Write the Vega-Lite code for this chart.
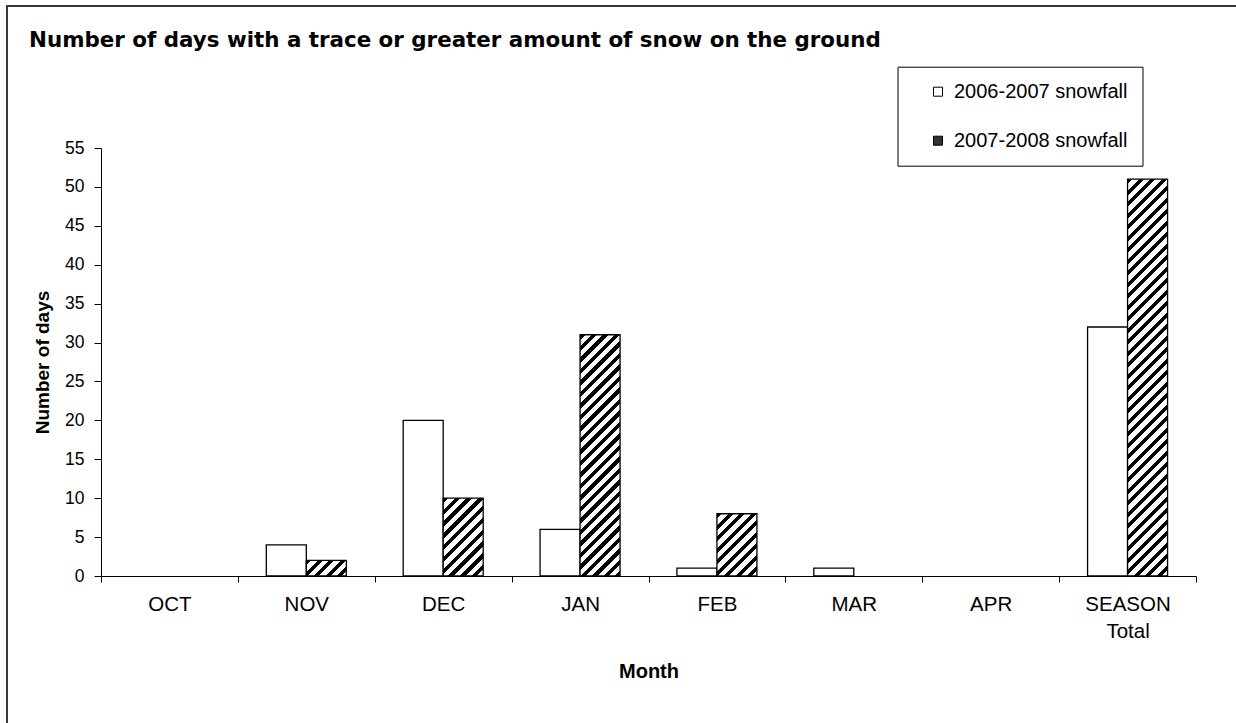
{
  "$schema": "https://vega.github.io/schema/vega-lite/v6.json",
  "width": 1239,
  "height": 720,
  "autosize": {"type": "none"},
  "padding": {"left": 7, "top": 6, "right": -10, "bottom": -3},
  "background": "white",
  "config": {
    "view": {"stroke": "#3a3a3a", "strokeWidth": 2},
    "font": "Liberation Sans",
    "axis": {"domainColor": "black", "tickColor": "black", "labelColor": "black", "titleColor": "black", "grid": false, "domainWidth": 1, "tickWidth": 1}
  },
  "title": {
    "text": "Number of days with a trace or greater amount of snow on the ground",
    "anchor": "start", "frame": "group", "font": "DejaVu Sans", "fontSize": 21.4, "fontWeight": "bold",
    "color": "black", "baseline": "alphabetic", "offset": 0, "dx": 22, "dy": 62
  },
  "data": {"values": [
    {"month": "OCT", "season": "2006-2007 snowfall", "days": 0},
    {"month": "OCT", "season": "2007-2008 snowfall", "days": 0},
    {"month": "NOV", "season": "2006-2007 snowfall", "days": 4},
    {"month": "NOV", "season": "2007-2008 snowfall", "days": 2},
    {"month": "DEC", "season": "2006-2007 snowfall", "days": 20},
    {"month": "DEC", "season": "2007-2008 snowfall", "days": 10},
    {"month": "JAN", "season": "2006-2007 snowfall", "days": 6},
    {"month": "JAN", "season": "2007-2008 snowfall", "days": 31},
    {"month": "FEB", "season": "2006-2007 snowfall", "days": 1},
    {"month": "FEB", "season": "2007-2008 snowfall", "days": 8},
    {"month": "MAR", "season": "2006-2007 snowfall", "days": 1},
    {"month": "MAR", "season": "2007-2008 snowfall", "days": 0},
    {"month": "APR", "season": "2006-2007 snowfall", "days": 0},
    {"month": "APR", "season": "2007-2008 snowfall", "days": 0},
    {"month": "SEASON Total", "season": "2006-2007 snowfall", "days": 32},
    {"month": "SEASON Total", "season": "2007-2008 snowfall", "days": 51}
  ]},
  "mark": {"type": "bar", "stroke": "black"},
  "encoding": {
    "x": {
      "field": "month", "type": "nominal",
      "sort": ["OCT", "NOV", "DEC", "JAN", "FEB", "MAR", "APR", "SEASON Total"],
      "scale": {"range": [94, 1189], "paddingInner": 0, "paddingOuter": 0},
      "axis": {
        "title": "Month", "orient": "bottom", "offset": -150, "tickBand": "extent", "tickSize": 6,
        "labelAngle": 0, "labelFontSize": 20.5, "labelPadding": 12, "labelLineHeight": 27,
        "labelExpr": "datum.label === 'SEASON Total' ? ['SEASON', 'Total'] : datum.label",
        "titleFontSize": 20, "titleFontWeight": "bold", "titlePadding": 20,
        "encode": {"ticks": {"y": {"value": -7}}}
      }
    },
    "xOffset": {"field": "season", "type": "nominal", "scale": {"paddingInner": 0, "paddingOuter": 0.7109375}},
    "y": {
      "field": "days", "type": "quantitative",
      "scale": {"domain": [0, 55], "range": [570, 142], "nice": false},
      "axis": {
        "title": "Number of days", "orient": "left", "offset": -94,
        "values": [0, 5, 10, 15, 20, 25, 30, 35, 40, 45, 50, 55],
        "tickSize": 7, "labelFontSize": 17.5, "labelPadding": 10,
        "titleFontSize": 19, "titleFontWeight": "bold", "titlePadding": 12,
        "encode": {"ticks": {"x": {"value": 6}}}
      }
    },
    "strokeWidth": {"condition": {"test": "datum.days === 0", "value": 0}, "value": 1.3},
    "fill": {
      "field": "season", "type": "nominal",
      "scale": {"domain": ["2006-2007 snowfall", "2007-2008 snowfall"], "range": ["white", "#333"]},
      "legend": {
        "orient": "none", "legendX": 890.5, "legendY": 60.7, "title": null,
        "padding": 15, "symbolOffset": 15.5, "labelOffset": 6, "rowPadding": 29,
        "labelFontSize": 20, "labelFont": "Liberation Sans", "labelColor": "black", "labelLimit": 400,
        "labelExpr": "datum.label + '\u00a0\u00a0\u00a0'",
        "symbolType": "square", "symbolSize": 81, "symbolStrokeColor": "black", "symbolStrokeWidth": 1,
        "strokeColor": "black", "fillColor": "white"
      },
      "condition": [
        {"test": "datum.season === '2007-2008 snowfall' && datum.month === 'NOV'", "value": {"gradient": "linear", "x1": 0, "y1": 0, "x2": 1.24848, "y2": 0.48578, "stops": [
          {"offset": 0, "color": "#000"}, {"offset": 0.09, "color": "#000"}, {"offset": 0.09, "color": "#fff"}, {"offset": 0.2, "color": "#fff"},
          {"offset": 0.2, "color": "#000"}, {"offset": 0.29, "color": "#000"}, {"offset": 0.29, "color": "#fff"}, {"offset": 0.4, "color": "#fff"},
          {"offset": 0.4, "color": "#000"}, {"offset": 0.49, "color": "#000"}, {"offset": 0.49, "color": "#fff"}, {"offset": 0.6, "color": "#fff"},
          {"offset": 0.6, "color": "#000"}, {"offset": 0.69, "color": "#000"}, {"offset": 0.69, "color": "#fff"}, {"offset": 0.8, "color": "#fff"},
          {"offset": 0.8, "color": "#000"}, {"offset": 0.89, "color": "#000"}, {"offset": 0.89, "color": "#fff"}, {"offset": 1, "color": "#fff"}
        ]}},
        {"test": "datum.season === '2007-2008 snowfall' && datum.month === 'DEC'", "value": {"gradient": "linear", "x1": 0, "y1": 0, "x2": 0.61654, "y2": 1.19945, "stops": [
          {"offset": 0, "color": "#000"}, {"offset": 0.045, "color": "#000"}, {"offset": 0.045, "color": "#fff"}, {"offset": 0.1, "color": "#fff"},
          {"offset": 0.1, "color": "#000"}, {"offset": 0.145, "color": "#000"}, {"offset": 0.145, "color": "#fff"}, {"offset": 0.2, "color": "#fff"},
          {"offset": 0.2, "color": "#000"}, {"offset": 0.245, "color": "#000"}, {"offset": 0.245, "color": "#fff"}, {"offset": 0.3, "color": "#fff"},
          {"offset": 0.3, "color": "#000"}, {"offset": 0.345, "color": "#000"}, {"offset": 0.345, "color": "#fff"}, {"offset": 0.4, "color": "#fff"},
          {"offset": 0.4, "color": "#000"}, {"offset": 0.445, "color": "#000"}, {"offset": 0.445, "color": "#fff"}, {"offset": 0.5, "color": "#fff"},
          {"offset": 0.5, "color": "#000"}, {"offset": 0.545, "color": "#000"}, {"offset": 0.545, "color": "#fff"}, {"offset": 0.6, "color": "#fff"},
          {"offset": 0.6, "color": "#000"}, {"offset": 0.645, "color": "#000"}, {"offset": 0.645, "color": "#fff"}, {"offset": 0.7, "color": "#fff"},
          {"offset": 0.7, "color": "#000"}, {"offset": 0.745, "color": "#000"}, {"offset": 0.745, "color": "#fff"}, {"offset": 0.8, "color": "#fff"},
          {"offset": 0.8, "color": "#000"}, {"offset": 0.845, "color": "#000"}, {"offset": 0.845, "color": "#fff"}, {"offset": 0.9, "color": "#fff"},
          {"offset": 0.9, "color": "#000"}, {"offset": 0.945, "color": "#000"}, {"offset": 0.945, "color": "#fff"}, {"offset": 1, "color": "#fff"}
        ]}},
        {"test": "datum.season === '2007-2008 snowfall' && datum.month === 'FEB'", "value": {"gradient": "linear", "x1": 0, "y1": 0, "x2": 0.75607, "y2": 1.17673, "stops": [
          {"offset": 0, "color": "#000"}, {"offset": 0.05, "color": "#000"}, {"offset": 0.05, "color": "#fff"}, {"offset": 0.1111, "color": "#fff"},
          {"offset": 0.1111, "color": "#000"}, {"offset": 0.1611, "color": "#000"}, {"offset": 0.1611, "color": "#fff"}, {"offset": 0.2222, "color": "#fff"},
          {"offset": 0.2222, "color": "#000"}, {"offset": 0.2722, "color": "#000"}, {"offset": 0.2722, "color": "#fff"}, {"offset": 0.3333, "color": "#fff"},
          {"offset": 0.3333, "color": "#000"}, {"offset": 0.3833, "color": "#000"}, {"offset": 0.3833, "color": "#fff"}, {"offset": 0.4444, "color": "#fff"},
          {"offset": 0.4444, "color": "#000"}, {"offset": 0.4944, "color": "#000"}, {"offset": 0.4944, "color": "#fff"}, {"offset": 0.5556, "color": "#fff"},
          {"offset": 0.5556, "color": "#000"}, {"offset": 0.6056, "color": "#000"}, {"offset": 0.6056, "color": "#fff"}, {"offset": 0.6667, "color": "#fff"},
          {"offset": 0.6667, "color": "#000"}, {"offset": 0.7167, "color": "#000"}, {"offset": 0.7167, "color": "#fff"}, {"offset": 0.7778, "color": "#fff"},
          {"offset": 0.7778, "color": "#000"}, {"offset": 0.8278, "color": "#000"}, {"offset": 0.8278, "color": "#fff"}, {"offset": 0.8889, "color": "#fff"},
          {"offset": 0.8889, "color": "#000"}, {"offset": 0.9389, "color": "#000"}, {"offset": 0.9389, "color": "#fff"}, {"offset": 1, "color": "#fff"}
        ]}},
        {"test": "datum.season === '2007-2008 snowfall' && datum.month === 'JAN'", "value": {"gradient": "linear", "x1": 0, "y1": 0, "x2": 0.192324, "y2": 1.15989, "stops": [
          {"offset": 0, "color": "#000"}, {"offset": 0.018, "color": "#000"}, {"offset": 0.018, "color": "#fff"}, {"offset": 0.04, "color": "#fff"},
          {"offset": 0.04, "color": "#000"}, {"offset": 0.058, "color": "#000"}, {"offset": 0.058, "color": "#fff"}, {"offset": 0.08, "color": "#fff"},
          {"offset": 0.08, "color": "#000"}, {"offset": 0.098, "color": "#000"}, {"offset": 0.098, "color": "#fff"}, {"offset": 0.12, "color": "#fff"},
          {"offset": 0.12, "color": "#000"}, {"offset": 0.138, "color": "#000"}, {"offset": 0.138, "color": "#fff"}, {"offset": 0.16, "color": "#fff"},
          {"offset": 0.16, "color": "#000"}, {"offset": 0.178, "color": "#000"}, {"offset": 0.178, "color": "#fff"}, {"offset": 0.2, "color": "#fff"},
          {"offset": 0.2, "color": "#000"}, {"offset": 0.218, "color": "#000"}, {"offset": 0.218, "color": "#fff"}, {"offset": 0.24, "color": "#fff"},
          {"offset": 0.24, "color": "#000"}, {"offset": 0.258, "color": "#000"}, {"offset": 0.258, "color": "#fff"}, {"offset": 0.28, "color": "#fff"},
          {"offset": 0.28, "color": "#000"}, {"offset": 0.298, "color": "#000"}, {"offset": 0.298, "color": "#fff"}, {"offset": 0.32, "color": "#fff"},
          {"offset": 0.32, "color": "#000"}, {"offset": 0.338, "color": "#000"}, {"offset": 0.338, "color": "#fff"}, {"offset": 0.36, "color": "#fff"},
          {"offset": 0.36, "color": "#000"}, {"offset": 0.378, "color": "#000"}, {"offset": 0.378, "color": "#fff"}, {"offset": 0.4, "color": "#fff"},
          {"offset": 0.4, "color": "#000"}, {"offset": 0.418, "color": "#000"}, {"offset": 0.418, "color": "#fff"}, {"offset": 0.44, "color": "#fff"},
          {"offset": 0.44, "color": "#000"}, {"offset": 0.458, "color": "#000"}, {"offset": 0.458, "color": "#fff"}, {"offset": 0.48, "color": "#fff"},
          {"offset": 0.48, "color": "#000"}, {"offset": 0.498, "color": "#000"}, {"offset": 0.498, "color": "#fff"}, {"offset": 0.52, "color": "#fff"},
          {"offset": 0.52, "color": "#000"}, {"offset": 0.538, "color": "#000"}, {"offset": 0.538, "color": "#fff"}, {"offset": 0.56, "color": "#fff"},
          {"offset": 0.56, "color": "#000"}, {"offset": 0.578, "color": "#000"}, {"offset": 0.578, "color": "#fff"}, {"offset": 0.6, "color": "#fff"},
          {"offset": 0.6, "color": "#000"}, {"offset": 0.618, "color": "#000"}, {"offset": 0.618, "color": "#fff"}, {"offset": 0.64, "color": "#fff"},
          {"offset": 0.64, "color": "#000"}, {"offset": 0.658, "color": "#000"}, {"offset": 0.658, "color": "#fff"}, {"offset": 0.68, "color": "#fff"},
          {"offset": 0.68, "color": "#000"}, {"offset": 0.698, "color": "#000"}, {"offset": 0.698, "color": "#fff"}, {"offset": 0.72, "color": "#fff"},
          {"offset": 0.72, "color": "#000"}, {"offset": 0.738, "color": "#000"}, {"offset": 0.738, "color": "#fff"}, {"offset": 0.76, "color": "#fff"},
          {"offset": 0.76, "color": "#000"}, {"offset": 0.778, "color": "#000"}, {"offset": 0.778, "color": "#fff"}, {"offset": 0.8, "color": "#fff"},
          {"offset": 0.8, "color": "#000"}, {"offset": 0.818, "color": "#000"}, {"offset": 0.818, "color": "#fff"}, {"offset": 0.84, "color": "#fff"},
          {"offset": 0.84, "color": "#000"}, {"offset": 0.858, "color": "#000"}, {"offset": 0.858, "color": "#fff"}, {"offset": 0.88, "color": "#fff"},
          {"offset": 0.88, "color": "#000"}, {"offset": 0.898, "color": "#000"}, {"offset": 0.898, "color": "#fff"}, {"offset": 0.92, "color": "#fff"},
          {"offset": 0.92, "color": "#000"}, {"offset": 0.938, "color": "#000"}, {"offset": 0.938, "color": "#fff"}, {"offset": 0.96, "color": "#fff"},
          {"offset": 0.96, "color": "#000"}, {"offset": 0.978, "color": "#000"}, {"offset": 0.978, "color": "#fff"}, {"offset": 1, "color": "#fff"}
        ]}},
        {"test": "datum.season === '2007-2008 snowfall' && datum.month === 'SEASON Total'", "value": {"gradient": "linear", "x1": 0, "y1": 0, "x2": 0.115645, "y2": 1.1474, "stops": [
          {"offset": 0, "color": "#000"}, {"offset": 0.01125, "color": "#000"}, {"offset": 0.01125, "color": "#fff"}, {"offset": 0.025, "color": "#fff"},
          {"offset": 0.025, "color": "#000"}, {"offset": 0.03625, "color": "#000"}, {"offset": 0.03625, "color": "#fff"}, {"offset": 0.05, "color": "#fff"},
          {"offset": 0.05, "color": "#000"}, {"offset": 0.06125, "color": "#000"}, {"offset": 0.06125, "color": "#fff"}, {"offset": 0.075, "color": "#fff"},
          {"offset": 0.075, "color": "#000"}, {"offset": 0.08625, "color": "#000"}, {"offset": 0.08625, "color": "#fff"}, {"offset": 0.1, "color": "#fff"},
          {"offset": 0.1, "color": "#000"}, {"offset": 0.11125, "color": "#000"}, {"offset": 0.11125, "color": "#fff"}, {"offset": 0.125, "color": "#fff"},
          {"offset": 0.125, "color": "#000"}, {"offset": 0.13625, "color": "#000"}, {"offset": 0.13625, "color": "#fff"}, {"offset": 0.15, "color": "#fff"},
          {"offset": 0.15, "color": "#000"}, {"offset": 0.16125, "color": "#000"}, {"offset": 0.16125, "color": "#fff"}, {"offset": 0.175, "color": "#fff"},
          {"offset": 0.175, "color": "#000"}, {"offset": 0.18625, "color": "#000"}, {"offset": 0.18625, "color": "#fff"}, {"offset": 0.2, "color": "#fff"},
          {"offset": 0.2, "color": "#000"}, {"offset": 0.21125, "color": "#000"}, {"offset": 0.21125, "color": "#fff"}, {"offset": 0.225, "color": "#fff"},
          {"offset": 0.225, "color": "#000"}, {"offset": 0.23625, "color": "#000"}, {"offset": 0.23625, "color": "#fff"}, {"offset": 0.25, "color": "#fff"},
          {"offset": 0.25, "color": "#000"}, {"offset": 0.26125, "color": "#000"}, {"offset": 0.26125, "color": "#fff"}, {"offset": 0.275, "color": "#fff"},
          {"offset": 0.275, "color": "#000"}, {"offset": 0.28625, "color": "#000"}, {"offset": 0.28625, "color": "#fff"}, {"offset": 0.3, "color": "#fff"},
          {"offset": 0.3, "color": "#000"}, {"offset": 0.31125, "color": "#000"}, {"offset": 0.31125, "color": "#fff"}, {"offset": 0.325, "color": "#fff"},
          {"offset": 0.325, "color": "#000"}, {"offset": 0.33625, "color": "#000"}, {"offset": 0.33625, "color": "#fff"}, {"offset": 0.35, "color": "#fff"},
          {"offset": 0.35, "color": "#000"}, {"offset": 0.36125, "color": "#000"}, {"offset": 0.36125, "color": "#fff"}, {"offset": 0.375, "color": "#fff"},
          {"offset": 0.375, "color": "#000"}, {"offset": 0.38625, "color": "#000"}, {"offset": 0.38625, "color": "#fff"}, {"offset": 0.4, "color": "#fff"},
          {"offset": 0.4, "color": "#000"}, {"offset": 0.41125, "color": "#000"}, {"offset": 0.41125, "color": "#fff"}, {"offset": 0.425, "color": "#fff"},
          {"offset": 0.425, "color": "#000"}, {"offset": 0.43625, "color": "#000"}, {"offset": 0.43625, "color": "#fff"}, {"offset": 0.45, "color": "#fff"},
          {"offset": 0.45, "color": "#000"}, {"offset": 0.46125, "color": "#000"}, {"offset": 0.46125, "color": "#fff"}, {"offset": 0.475, "color": "#fff"},
          {"offset": 0.475, "color": "#000"}, {"offset": 0.48625, "color": "#000"}, {"offset": 0.48625, "color": "#fff"}, {"offset": 0.5, "color": "#fff"},
          {"offset": 0.5, "color": "#000"}, {"offset": 0.51125, "color": "#000"}, {"offset": 0.51125, "color": "#fff"}, {"offset": 0.525, "color": "#fff"},
          {"offset": 0.525, "color": "#000"}, {"offset": 0.53625, "color": "#000"}, {"offset": 0.53625, "color": "#fff"}, {"offset": 0.55, "color": "#fff"},
          {"offset": 0.55, "color": "#000"}, {"offset": 0.56125, "color": "#000"}, {"offset": 0.56125, "color": "#fff"}, {"offset": 0.575, "color": "#fff"},
          {"offset": 0.575, "color": "#000"}, {"offset": 0.58625, "color": "#000"}, {"offset": 0.58625, "color": "#fff"}, {"offset": 0.6, "color": "#fff"},
          {"offset": 0.6, "color": "#000"}, {"offset": 0.61125, "color": "#000"}, {"offset": 0.61125, "color": "#fff"}, {"offset": 0.625, "color": "#fff"},
          {"offset": 0.625, "color": "#000"}, {"offset": 0.63625, "color": "#000"}, {"offset": 0.63625, "color": "#fff"}, {"offset": 0.65, "color": "#fff"},
          {"offset": 0.65, "color": "#000"}, {"offset": 0.66125, "color": "#000"}, {"offset": 0.66125, "color": "#fff"}, {"offset": 0.675, "color": "#fff"},
          {"offset": 0.675, "color": "#000"}, {"offset": 0.68625, "color": "#000"}, {"offset": 0.68625, "color": "#fff"}, {"offset": 0.7, "color": "#fff"},
          {"offset": 0.7, "color": "#000"}, {"offset": 0.71125, "color": "#000"}, {"offset": 0.71125, "color": "#fff"}, {"offset": 0.725, "color": "#fff"},
          {"offset": 0.725, "color": "#000"}, {"offset": 0.73625, "color": "#000"}, {"offset": 0.73625, "color": "#fff"}, {"offset": 0.75, "color": "#fff"},
          {"offset": 0.75, "color": "#000"}, {"offset": 0.76125, "color": "#000"}, {"offset": 0.76125, "color": "#fff"}, {"offset": 0.775, "color": "#fff"},
          {"offset": 0.775, "color": "#000"}, {"offset": 0.78625, "color": "#000"}, {"offset": 0.78625, "color": "#fff"}, {"offset": 0.8, "color": "#fff"},
          {"offset": 0.8, "color": "#000"}, {"offset": 0.81125, "color": "#000"}, {"offset": 0.81125, "color": "#fff"}, {"offset": 0.825, "color": "#fff"},
          {"offset": 0.825, "color": "#000"}, {"offset": 0.83625, "color": "#000"}, {"offset": 0.83625, "color": "#fff"}, {"offset": 0.85, "color": "#fff"},
          {"offset": 0.85, "color": "#000"}, {"offset": 0.86125, "color": "#000"}, {"offset": 0.86125, "color": "#fff"}, {"offset": 0.875, "color": "#fff"},
          {"offset": 0.875, "color": "#000"}, {"offset": 0.88625, "color": "#000"}, {"offset": 0.88625, "color": "#fff"}, {"offset": 0.9, "color": "#fff"},
          {"offset": 0.9, "color": "#000"}, {"offset": 0.91125, "color": "#000"}, {"offset": 0.91125, "color": "#fff"}, {"offset": 0.925, "color": "#fff"},
          {"offset": 0.925, "color": "#000"}, {"offset": 0.93625, "color": "#000"}, {"offset": 0.93625, "color": "#fff"}, {"offset": 0.95, "color": "#fff"}
        ]}}
      ]
    }
  }
}
